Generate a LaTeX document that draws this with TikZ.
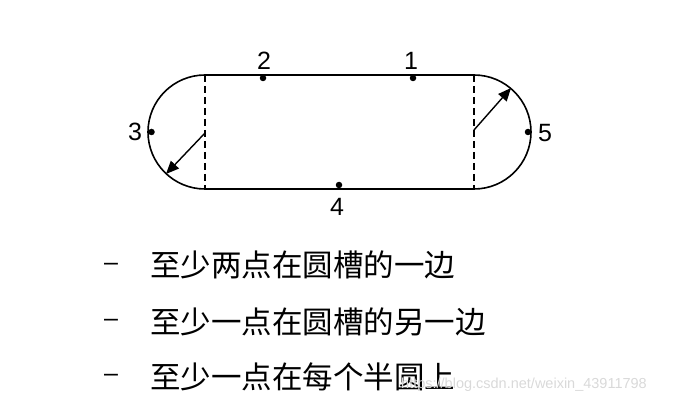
\documentclass[tikz,border=0pt]{standalone}
\usepackage{fontspec}
\setmainfont{Liberation Sans}
\newfontfamily\cjk{Noto Sans CJK SC}
\usetikzlibrary{arrows.meta}
\begin{document}
\begin{tikzpicture}[x=1pt,y=-1pt,
  outline/.style={line width=1.6pt},
  sepline/.style={line width=1.3pt, dash pattern=on 7pt off 4pt},
  pt/.style={circle,fill,inner sep=0pt,minimum size=6.5pt},
  lbl/.style={font=\fontsize{25}{25}\selectfont, inner sep=0pt},
  item/.style={font=\cjk\fontsize{30.5}{30.5}\selectfont, anchor=west, inner sep=0pt},
  dashmark/.style={font=\fontsize{25}{25}\selectfont, inner sep=0pt},
  arr/.style={line width=1.4pt,-{Triangle[length=13pt,width=11pt]}}]
\useasboundingbox (0,0) rectangle (683,406);
% stadium outline
\coordinate (tl) at (205,75);
\coordinate (tr) at (474,75);
\coordinate (bl) at (205,189);
\coordinate (br) at (474,189);
\draw[outline] (tl) -- (tr) arc[start angle=-90,end angle=90,radius=57]
  -- (bl) arc[start angle=90,end angle=270,radius=57] -- cycle;
\draw[sepline] (tl) -- (bl);
\draw[sepline] (tr) -- (br);
% points
\node[pt] (p1) at (413,78) {};
\node[pt] (p2) at (263,78) {};
\node[pt] (p3) at (151.5,132) {};
\node[pt] (p4) at (339,185) {};
\node[pt] (p5) at (528,132) {};
\node[lbl] (l1) at (411,61) {1};
\node[lbl] (l2) at (264,61) {2};
\node[lbl] (l3) at (135,132) {3};
\node[lbl] (l4) at (337,207) {4};
\node[lbl] (l5) at (545,133) {5};
% radius arrows
\coordinate (a3s) at (205,133);
\coordinate (a3e) at (166,174);
\coordinate (a5s) at (474,130);
\coordinate (a5e) at (511,88);
\draw[arr] (a3s) -- (a3e);
\draw[arr] (a5s) -- (a5e);
% list
\node[dashmark] (d1) at (111,267) {–};
\node[dashmark] (d2) at (111,323) {–};
\node[dashmark] (d3) at (111,378) {–};
\node[item] (t1) at (150,265) {至少两点在圆槽的一边};
\node[item] (t2) at (150,322) {至少一点在圆槽的另一边};
\node[item] (t3) at (150,377) {至少一点在每个半圆上};
\node[font=\fontsize{14.5}{14.5}\selectfont, text=black!15, anchor=west, inner sep=0pt] (wm) at (401,385) {https://blog.csdn.net/weixin\_43911798};
\end{tikzpicture}
\end{document}
